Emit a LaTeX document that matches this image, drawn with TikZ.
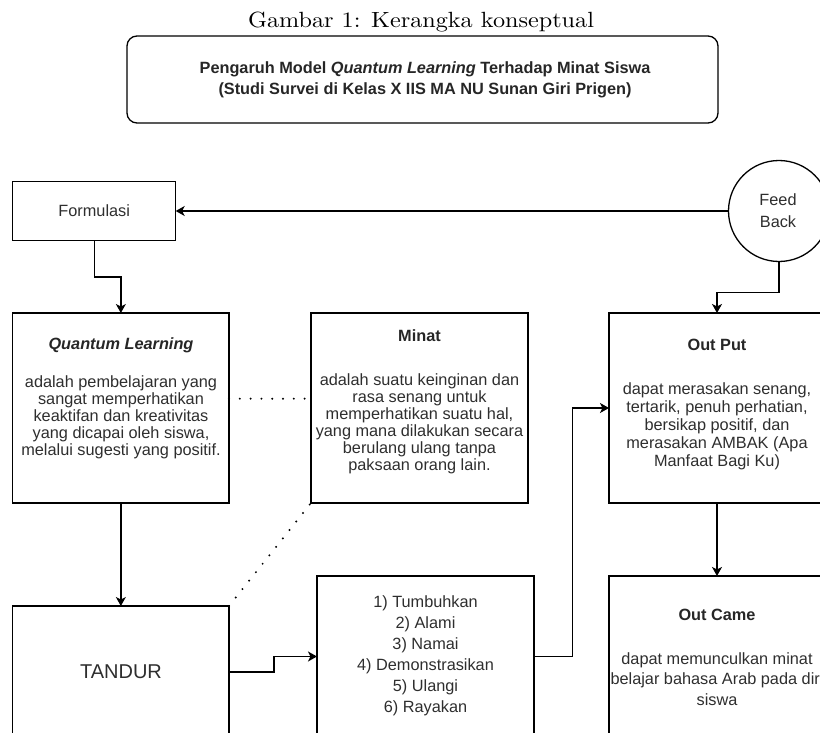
\documentclass[tikz,border=0pt]{standalone}
\usepackage{fontspec}
\newfontfamily\arialf{Liberation Sans}
\newfontfamily\titlefont[FakeStretch=1.1]{lmroman10-regular.otf}
\usetikzlibrary{arrows.meta}
\tikzset{
  bx/.style={draw=black, line width=1.3pt, inner sep=0pt, outer sep=0pt},
  tx/.style={font=\arialf\fontsize{16.3}{#1}\selectfont, align=center, text=black!82, inner sep=0pt},
  tx/.default=19,
  tb/.style={font=\arialf\bfseries\fontsize{16.3}{#1}\selectfont, align=center, text=black!85, inner sep=0pt},
  tb/.default=19,
  arr/.style={draw=black, line width=1.3pt, -{Stealth[length=9pt,width=10pt,inset=2.5pt]}},
  dotline/.style={draw=black, line width=2.2pt, line cap=round, dash pattern=on 0pt off 10.8pt},
}
\begin{document}
\begin{tikzpicture}[x=1pt,y=-1pt]
\useasboundingbox (0,0) rectangle (820,733);
\clip (0,0) rectangle (820,733);

% title
\node[anchor=base, inner sep=0pt] (title) at (421,28) {\titlefont\fontsize{22}{26}\selectfont Gambar 1: Kerangka konseptual};

% top box
\node[bx, rounded corners=10pt, minimum width=591pt, minimum height=87pt] (top) at (422.5,79.5) {};
\node[tb=21.5] (toptext) at (425,80) {Pengaruh Model \textit{Quantum Learning} Terhadap Minat Siswa\\(Studi Survei di Kelas X IIS MA NU Sunan Giri Prigen)};

% formulasi and feedback
\node[bx, minimum width=163pt, minimum height=58.3pt] (form) at (94.2,211) {};
\node[tx] (formt) at (94.2,211) {Formulasi};
\node[bx, circle, minimum size=101pt] (fb) at (779,211) {};
\node[tx=22] (fbt) at (778,211) {Feed\\Back};

% middle row
\node[bx, minimum width=216.3pt, minimum height=190pt] (ql) at (120.85,408) {};
\node[tb] (qlh) at (121,345) {\textit{Quantum Learning}};
\node[tx=17] (qlb) at (121,417) {adalah pembelajaran yang\\sangat memperhatikan\\keaktifan dan kreativitas\\yang dicapai oleh siswa,\\melalui sugesti yang positif.};

\node[bx, minimum width=217pt, minimum height=190pt] (minat) at (419.5,408) {};
\node[tb] (minath) at (419.5,336) {Minat};
\node[tx=17] (minatb) at (419.5,423.5) {adalah suatu keinginan dan\\rasa senang untuk\\memperhatikan suatu hal,\\yang mana dilakukan secara\\berulang ulang tanpa\\paksaan orang lain.};

\node[bx, minimum width=216pt, minimum height=190pt] (outp) at (717,408) {};
\node[tb] (outph) at (717,345) {Out Put};
\node[tx=18] (outpb) at (717,426) {dapat merasakan senang,\\tertarik, penuh perhatian,\\bersikap positif, dan\\merasakan AMBAK (Apa\\Manfaat Bagi Ku)};

% bottom row
\node[bx, minimum width=216.3pt, minimum height=132pt] (tandur) at (120.85,672) {};
\node[font=\arialf\fontsize{20}{24}\selectfont, text=black!82, inner sep=0pt] (tandurt) at (121,672) {TANDUR};

\node[bx, minimum width=217pt, minimum height=161pt] (steps) at (425.5,656.5) {};
\node[tx=21] (stepst) at (425.5,656) {1) Tumbuhkan\\2) Alami\\3) Namai\\4) Demonstrasikan\\5) Ulangi\\6) Rayakan};

\node[bx, minimum width=216pt, minimum height=161pt] (outc) at (717,656.5) {};
\node[tb] (outch) at (717,615) {Out Came};
\node[tx=20.5] (outcb) at (717,679) {dapat memunculkan minat\\belajar bahasa Arab pada diri\\siswa};

% connectors
\draw[arr] (fb.west) -- (form.east);
\draw[arr] (form.south) -- ++(0,36.7) -| (ql.north);
\draw[arr] (fb.south) -- ++(0,31) -| (outp.north);
\draw[arr] (ql.south) -- (tandur.north);
\draw[arr] (tandur.east) -- ++(45,0) |- (steps.west);
\draw[arr] (steps.east) -- ++(38.7,0) |- (outp.west);
\draw[arr] (outp.south) -- (outc.north);
\draw[dotline] ([yshift=9.3pt]ql.east) -- ([yshift=9.3pt]minat.west);
\draw[dotline] (tandur.north east) -- (minat.south west);
\end{tikzpicture}
\end{document}
